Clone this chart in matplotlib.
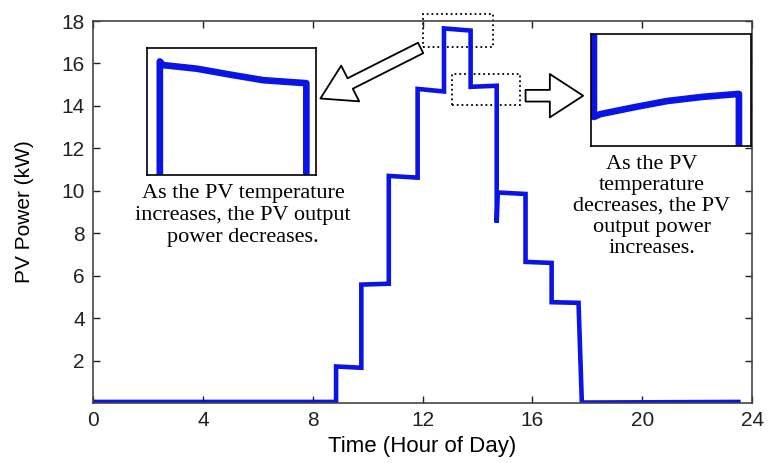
import matplotlib
matplotlib.use('Agg')
import matplotlib.pyplot as plt
from matplotlib.patches import Rectangle, FancyArrowPatch

# main PV power profile (hour of day, kW)
hours = [0.0, 8.85, 8.85, 9.77, 9.77, 10.77, 10.77, 11.82, 11.82, 12.78, 12.78,
         13.75, 13.75, 14.70, 14.70, 14.74, 15.75, 15.75, 16.70, 16.70, 17.68,
         17.80, 23.5]
power = [0.05, 0.05, 1.72, 1.66, 5.58, 5.62, 10.70, 10.62, 14.80, 14.68, 17.65,
         17.55, 14.90, 14.95, 8.50, 9.92, 9.85, 6.65, 6.60, 4.75, 4.72,
         0.02, 0.05]

# zoomed detail: peak hour (temperature rising)
zoom1_hours = [12.78, 12.78, 12.80, 13.02, 13.24, 13.45, 13.73, 13.73]
zoom1_power = [14.80, 17.74, 17.71, 17.68, 17.63, 17.585, 17.56, 14.90]

# zoomed detail: following hour (temperature falling)
zoom2_hours = [13.80, 13.80, 13.84, 14.06, 14.26, 14.48, 14.71, 14.71]
zoom2_power = [17.60, 14.755, 14.77, 14.808, 14.84, 14.862, 14.878, 9.90]

xticks = [0, 4, 8, 12, 16, 20, 24]
yticks = [2, 4, 6, 8, 10, 12, 14, 16, 18]

blue = '#0a14e6'
sans = ['Liberation Sans', 'DejaVu Sans']
serif = ['Liberation Serif', 'DejaVu Serif']

fig = plt.figure(figsize=(7.69, 4.63), dpi=100)
ax = fig.add_axes([0.121, 0.1296, 0.857, 0.825])
ax.plot(hours, power, color=blue, lw=3.3, solid_joinstyle='miter')
ax.set_xlim(0, 24)
ax.set_ylim(0, 18)
ax.set_xticks(xticks)
ax.set_yticks(yticks)
ax.tick_params(direction='in', length=5, width=1, top=True, right=True,
               labelsize=15, colors='#222222', pad=6)
for lbl in ax.get_xticklabels() + ax.get_yticklabels():
    lbl.set_family(sans)
for sp in ax.spines.values():
    sp.set_color('#444444')
    sp.set_linewidth(1.2)
ax.set_xlabel('Time (Hour of Day)', family=sans, fontsize=16, labelpad=4)
ax.set_ylabel('PV Power (kW)', family=sans, fontsize=15, labelpad=20)

# dotted boxes marking the zoomed regions
ax.add_patch(Rectangle((12.0, 16.79), 2.57, 1.56, fill=False, ls=':', lw=1.3,
                       ec='black', clip_on=False))
ax.add_patch(Rectangle((13.07, 14.06), 2.48, 1.46, fill=False, ls=':', lw=1.3,
                       ec='black', clip_on=False))

# hollow arrows
ax.add_patch(FancyArrowPatch((12.02, 16.79), (8.19, 14.29),
                             arrowstyle='simple,head_length=1.0,head_width=1.2,tail_width=0.35',
                             mutation_scale=24, fc='white', ec='black', lw=1.3,
                             clip_on=False))
ax.add_patch(FancyArrowPatch((15.65, 14.48), (17.95, 14.48),
                             arrowstyle='simple,head_length=1.0,head_width=1.3,tail_width=0.35',
                             mutation_scale=24, fc='white', ec='black', lw=1.3,
                             clip_on=False))

# inset 1
ins1 = fig.add_axes([0.191, 0.622, 0.2198, 0.274])
ins1.plot(zoom1_hours, zoom1_power, color=blue, lw=4.8)
ins1.set_xlim(12.696, 13.792)
ins1.set_ylim(16.8, 17.85)
ins1.set_xticks([])
ins1.set_yticks([])
for sp in ins1.spines.values():
    sp.set_linewidth(1.2)

# inset 2
ins2 = fig.add_axes([0.768, 0.6847, 0.208, 0.2428])
ins2.plot(zoom2_hours, zoom2_power, color=blue, lw=4.8)
ins2.set_xlim(13.779, 14.783)
ins2.set_ylim(14.6, 15.2)
ins2.set_xticks([])
ins2.set_yticks([])
for sp in ins2.spines.values():
    sp.set_linewidth(1.2)

fig.text(243 / 769, 1 - 184 / 463,
         'As the PV temperature\nincreases, the PV output\npower decreases.',
         family=serif, fontsize=16, ha='center', va='top', linespacing=1.22)
fig.text(652 / 769, 1 - 155 / 463,
         'As the PV\ntemperature\ndecreases, the PV\noutput power\nincreases.',
         family=serif, fontsize=16, ha='center', va='top', linespacing=1.14)

fig.savefig('out.png', dpi=100)
